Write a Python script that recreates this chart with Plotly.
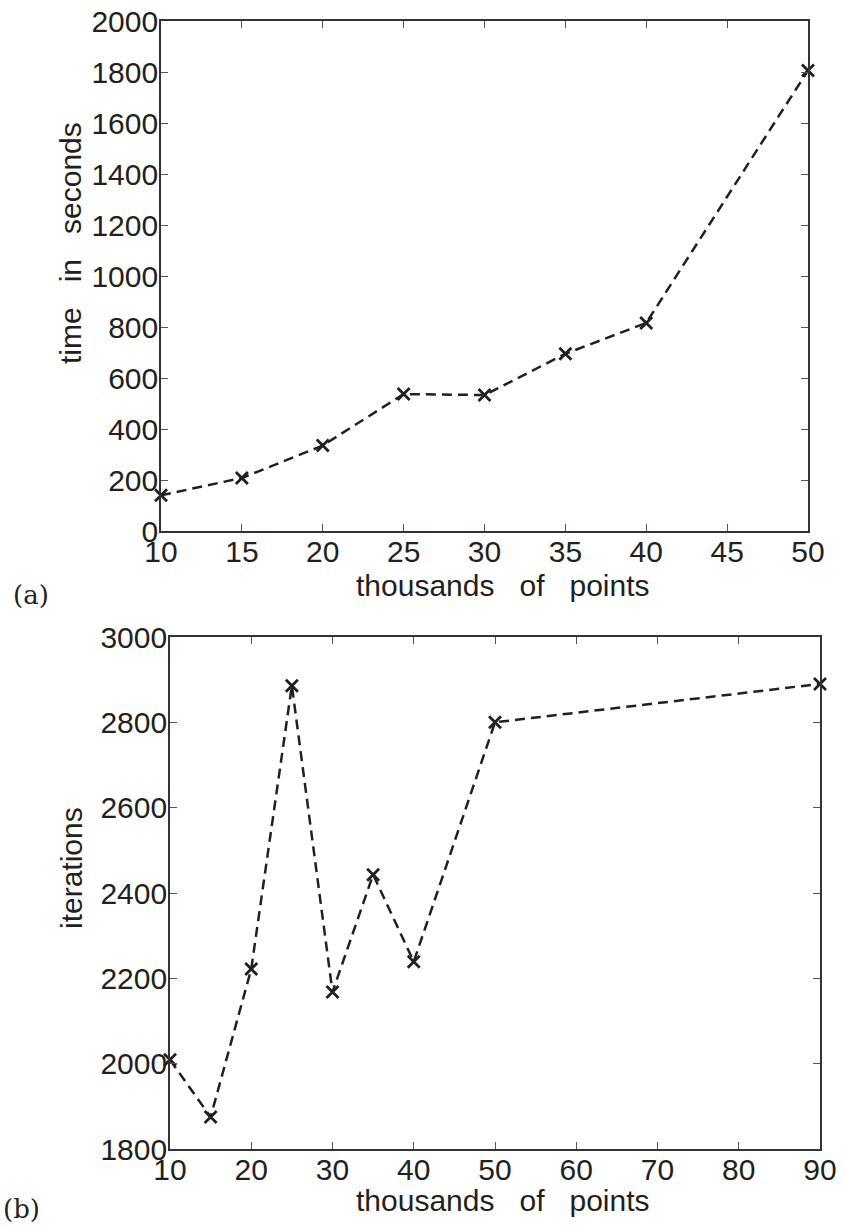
import plotly.graph_objects as go

# Panel (a)
points_a = [10, 15, 20, 25, 30, 35, 40, 50]
time_seconds = [140, 208, 335, 537, 533, 695, 816, 1806]
xticks_a = [10, 15, 20, 25, 30, 35, 40, 45, 50]
yticks_a = [0, 200, 400, 600, 800, 1000, 1200, 1400, 1600, 1800, 2000]

# Panel (b)
points_b = [10, 15, 20, 25, 30, 35, 40, 50, 90]
iterations = [2009, 1875, 2222, 2886, 2168, 2443, 2239, 2800, 2890]
xticks_b = [10, 20, 30, 40, 50, 60, 70, 80, 90]
yticks_b = [1800, 2000, 2200, 2400, 2600, 2800, 3000]

W, H = 846, 1230
FONT = "Liberation Sans"
TICKSIZE = 30
TITLESIZE = 30
INK = "#231f20"

line_style = dict(color=INK, width=2.5, dash="10px,6px")
marker_style = dict(symbol="x-thin", size=12, line=dict(color=INK, width=2.8), color=INK)

fig = go.Figure()
fig.add_trace(go.Scatter(x=points_a, y=time_seconds, mode="lines+markers",
                         line=line_style, marker=marker_style, xaxis="x", yaxis="y",
                         showlegend=False, cliponaxis=False))
fig.add_trace(go.Scatter(x=points_b, y=iterations, mode="lines+markers",
                         line=line_style, marker=marker_style, xaxis="x2", yaxis="y2",
                         showlegend=False, cliponaxis=False))

axis_common = dict(showgrid=False, zeroline=False, showline=True, linecolor="#333333",
                   linewidth=1.6, mirror="ticks", ticks="inside", ticklen=7,
                   tickwidth=1.2, tickcolor="#555555", automargin=False,
                   tickfont=dict(family=FONT, size=TICKSIZE, color=INK))

def px(xp):
    return xp / W

def py(yp):
    return 1 - yp / H

fig.update_layout(
    width=W, height=H, margin=dict(l=0, r=0, t=0, b=0, autoexpand=False),
    paper_bgcolor="white", plot_bgcolor="white",
    xaxis=dict(axis_common, domain=[px(161), px(808)], range=[10, 50],
               tickvals=xticks_a, ticktext=[str(v) for v in xticks_a], anchor="y",
               ticklabelstandoff=-7),
    yaxis=dict(axis_common, domain=[py(531), py(21)], range=[0, 2000],
               tickvals=yticks_a, ticktext=[str(v) for v in yticks_a], anchor="x",
               ticklabelstandoff=-5),
    xaxis2=dict(axis_common, domain=[px(170), px(820)], range=[10, 90],
                tickvals=xticks_b, ticktext=[str(v) for v in xticks_b], anchor="y2",
                ticklabelstandoff=-7),
    yaxis2=dict(axis_common, domain=[py(1149), py(637)], range=[1800, 3000],
                tickvals=yticks_b, ticktext=[str(v) for v in yticks_b], anchor="x2",
                ticklabelstandoff=-5),
)

SP = "\u00a0" * 3
titles = [
    dict(text=f"thousands{SP}of{SP}points", x=px(503), y=py(585), textangle=0),
    dict(text=f"thousands{SP}of{SP}points", x=px(503), y=py(1200), textangle=0),
    dict(text=f"time{SP}in{SP}seconds", x=px(71), y=py(243), textangle=-90),
    dict(text="iterations", x=px(71), y=py(868), textangle=-90),
]
for t in titles:
    fig.add_annotation(text=t["text"], x=t["x"], y=t["y"], xref="paper", yref="paper",
                       xanchor="center", yanchor="middle", textangle=t["textangle"],
                       showarrow=False, font=dict(family=FONT, size=TITLESIZE, color=INK))

for lab, xp, yp in [("(a)", 31, 595), ("(b)", 21, 1209)]:
    fig.add_annotation(text=lab, x=px(xp), y=py(yp), xref="paper", yref="paper",
                       xanchor="center", yanchor="middle", showarrow=False,
                       font=dict(family="DejaVu Serif", size=26, color=INK))

fig.write_html("out.html")
